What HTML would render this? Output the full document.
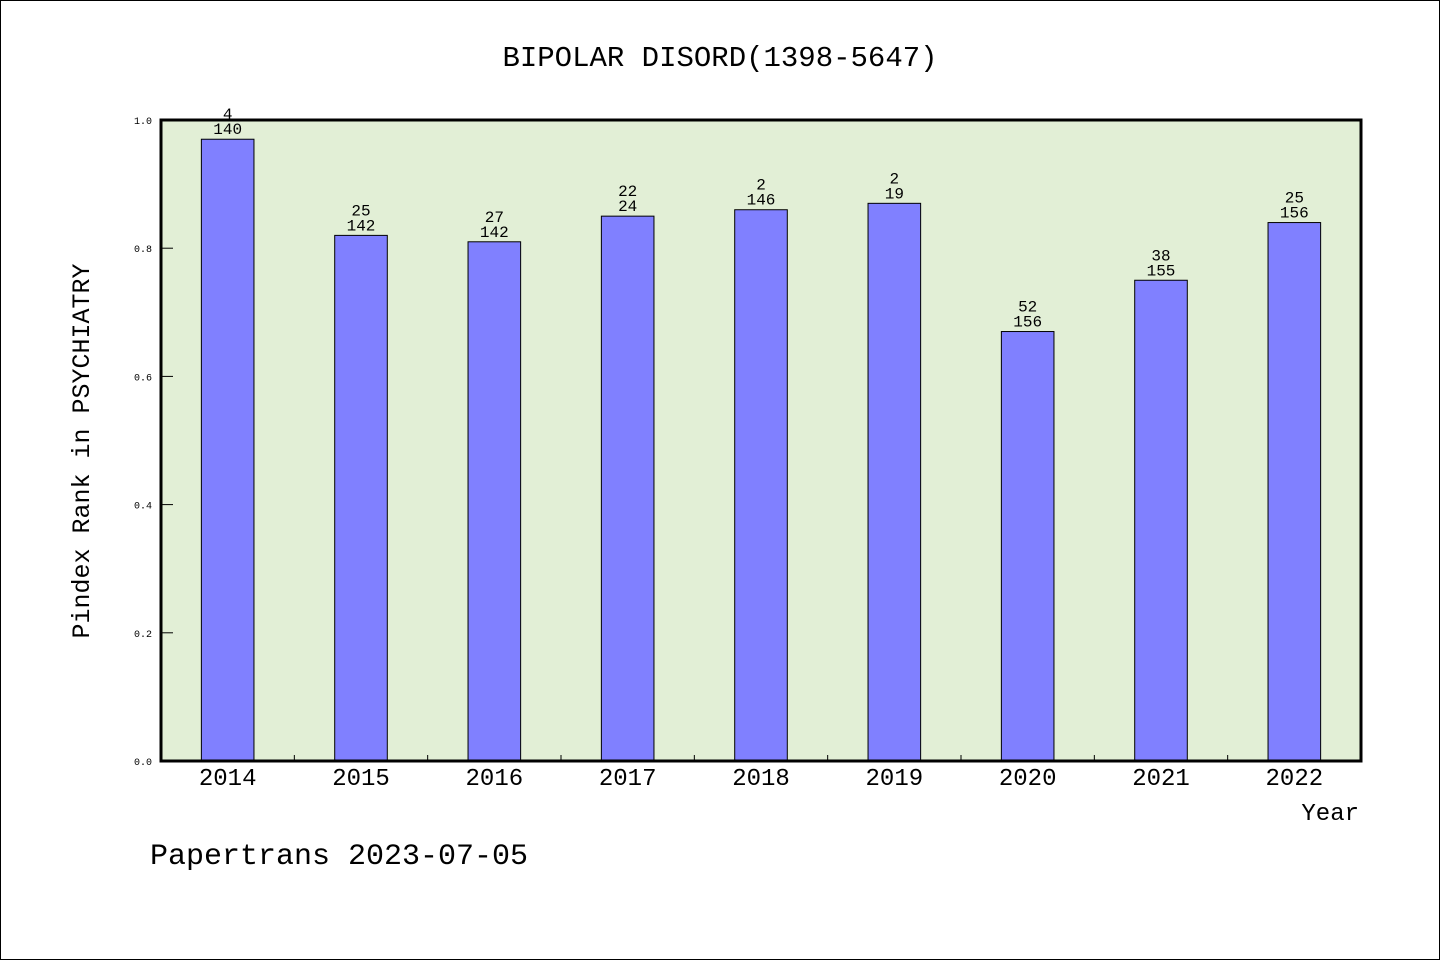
<!DOCTYPE html>
<html><head><meta charset="utf-8"><style>
html,body{margin:0;padding:0;background:#fff}
svg{display:block;font-family:"Liberation Mono",monospace}
</style></head><body>
<svg id="c" width="1440" height="960" viewBox="0 0 1440 960">
<rect x="0.5" y="0.5" width="1439" height="959" fill="#fff" stroke="#000"/>
<text x="720" y="66" text-anchor="middle" font-size="29">BIPOLAR DISORD(1398-5647)</text>
<rect x="161" y="120" width="1200" height="641" fill="#e2efd6"/>
<g id="bars"></g>
<rect x="161" y="120" width="1200" height="641" fill="none" stroke="#000" stroke-width="3"/>
<text x="89" y="451" transform="rotate(-90 89 451)" text-anchor="middle" font-size="25">Pindex Rank in PSYCHIATRY</text>
<text x="1359" y="820" text-anchor="end" font-size="24">Year</text>
<text x="150" y="864" font-size="30">Papertrans 2023-07-05</text>
</svg>
<script>
const categories=["2014","2015","2016","2017","2018","2019","2020","2021","2022"];
const values=[0.97,0.82,0.81,0.85,0.86,0.87,0.67,0.75,0.84];
const topLabels=["4","25","27","22","2","2","52","38","25"];
const bottomLabels=["140","142","142","24","146","19","156","155","156"];
const yTicks=[0,0.2,0.4,0.6,0.8,1.0];
const yTickLabels=["0.0","0.2","0.4","0.6","0.8","1.0"];
const NS="http://www.w3.org/2000/svg";
const L=161,R=1361,T=120,B=761;
const step=(R-L)/categories.length;
const xs=i=>L+step*(i+0.5);
const ys=v=>B-(B-T)*v;
const g=document.getElementById('bars');
function mk(t,a){const e=document.createElementNS(NS,t);for(const k in a)e.setAttribute(k,a[k]);return e;}
yTicks.forEach((v,i)=>{
  const y=ys(v);
  const tk=mk('line',{x1:L,x2:L+12,y1:y,y2:y,stroke:'#000','stroke-width':1});
  
  
  g.appendChild(tk);
  const tx=mk('text',{x:152,y:y+4,'text-anchor':'end','font-size':10});
  tx.textContent=yTickLabels[i];
  
  
  g.appendChild(tx);
});
categories.forEach((c,i)=>{
  const cx=xs(i),bw=52.6,y=ys(values[i]);
  const r=mk('rect',{x:cx-bw/2,y:y,width:bw,height:B-y,fill:'#8080ff',stroke:'#000','stroke-width':1});
  
  
  g.appendChild(r);
  if(i>0){
    const bx=L+step*i;
    const tk=mk('line',{x1:bx,x2:bx,y1:B,y2:B-6,stroke:'#000','stroke-width':1});
    
    
    g.appendChild(tk);
  }
  const t1=mk('text',{x:cx,y:y-20,'text-anchor':'middle','font-size':16});
  t1.textContent=topLabels[i];
  
  
  g.appendChild(t1);
  const t2=mk('text',{x:cx,y:y-5,'text-anchor':'middle','font-size':16});
  t2.textContent=bottomLabels[i];
  
  
  g.appendChild(t2);
  const xl=mk('text',{x:cx,y:785,'text-anchor':'middle','font-size':24});
  xl.textContent=c;
  
  
  g.appendChild(xl);
});
</script>
</body></html>
